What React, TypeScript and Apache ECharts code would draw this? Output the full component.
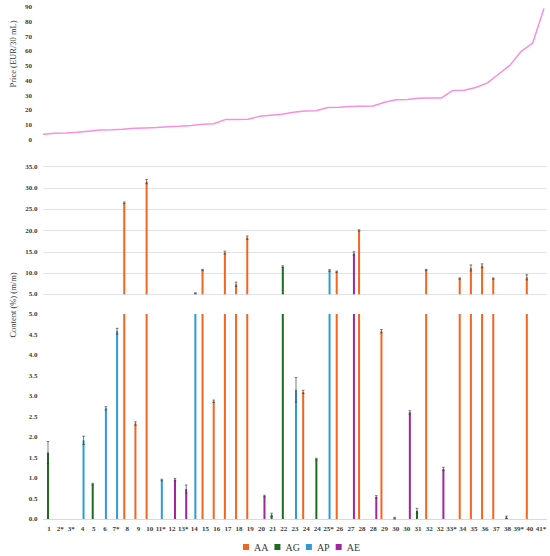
import React, { useEffect, useRef } from "react";
import * as echarts from "echarts";

const _ = null;

const categories = [
  "1", "2*", "3*", "4", "5", "6", "7*", "8", "9", "10",
  "11*", "12", "13*", "14", "15", "16", "17", "18", "19", "20",
  "21", "22", "23", "24", "24", "25*", "26", "27", "28", "28",
  "29", "30", "30", "31", "32", "32", "33*", "34", "35", "36",
  "37", "38", "39*", "40", "41*",
];

// Price (EUR/30 mL)
const price = [
  3.9, 4.6, 4.7, 5.2, 6.0, 6.8, 7.0, 7.3, 7.9, 8.2,
  8.4, 8.9, 9.3, 9.8, 10.6, 11.0, 13.8, 13.9, 14.1, 16.0,
  16.8, 17.4, 18.8, 19.6, 19.8, 22.0, 22.1, 22.6, 22.8, 23.0,
  25.5, 27.3, 27.4, 28.3, 28.4, 28.5, 33.5, 33.6, 35.5, 38.5,
  44.5, 50.5, 60.0, 65.5, 89.0,
];

// Content (%) (m/m)
const AA = [
  _, _, _, _, _, _, _, 26.5, 2.33, 31.5,
  _, _, _, _, 10.7, 2.87, 14.8, 7.35, 18.3, _,
  _, _, _, 3.1, _, _, 10.3, _, 20.0, _,
  4.58, _, _, _, 10.7, _, _, 8.7, 11.2, 11.7,
  8.7, _, _, 9.0, _,
];
const AA_err = [
  _, _, _, _, _, _, _, 0.2, 0.04, 0.5,
  _, _, _, _, 0.15, 0.03, 0.35, 0.5, 0.4, _,
  _, _, _, 0.04, _, _, 0.15, _, 0.15, _,
  0.04, _, _, _, 0.15, _, _, 0.15, 0.7, 0.45,
  0.15, _, _, 0.6, _,
];
const AG = [
  1.62, _, _, _, 0.85, _, _, _, _, _,
  _, _, _, _, _, _, _, _, _, _,
  0.1, 11.5, _, _, 1.46, _, _, _, _, _,
  _, 0.02, _, 0.2, _, _, _, _, _, _,
  _, 0.04, _, _, _,
];
const AG_err = [
  0.27, _, _, _, 0.02, _, _, _, _, _,
  _, _, _, _, _, _, _, _, _, _,
  0.04, 0.2, _, _, 0.02, _, _, _, _, _,
  _, 0.02, _, 0.06, _, _, _, _, _, _,
  _, 0.03, _, _, _,
];
const AP = [
  _, _, _, 1.92, _, 2.7, 4.58, _, _, _,
  0.95, _, _, 5.25, _, _, _, _, _, _,
  _, _, 3.15, _, _, 10.6, _, _, _, _,
  _, _, _, _, _, _, _, _, _, _,
  _, _, _, _, _,
];
const AP_err = [
  _, _, _, 0.1, _, 0.04, 0.07, _, _, _,
  0.02, _, _, 0.1, _, _, _, _, _, _,
  _, _, 0.3, _, _, 0.2, _, _, _, _,
  _, _, _, _, _, _, _, _, _, _,
  _, _, _, _, _,
];
const AE = [
  _, _, _, _, _, _, _, _, _, _,
  _, 0.96, 0.73, _, _, _, _, _, _, 0.56,
  _, _, _, _, _, _, _, 14.6, _, 0.54,
  _, _, 2.6, _, _, 1.22, _, _, _, _,
  _, _, _, _, _,
];
const AE_err = [
  _, _, _, _, _, _, _, _, _, _,
  _, 0.03, 0.1, _, _, _, _, _, _, 0.02,
  _, _, _, _, _, _, _, 0.4, _, 0.03,
  _, _, 0.04, _, _, 0.04, _, _, _, _,
  _, _, _, _, _,
];

const seriesNames = ["AA", "AG", "AP", "AE"];
const seriesColors = ["#F26522", "#1E6B22", "#2E9BD6", "#A1259E"];
const values = [AA, AG, AP, AE];
const errors = [AA_err, AG_err, AP_err, AE_err];

const FONT = "'Liberation Serif', 'DejaVu Serif', serif";
const TXT = "#3a3a3a";
const CAT_GAP = 0.28;

function errorSeries(k: number, gridIdx: number, keep: (v: number) => boolean) {
  const data: number[][] = [];
  values[k].forEach((v, i) => {
    if (v != null && keep(v)) data.push([i, v as number, (errors[k][i] ?? 0) as number]);
  });
  return {
    type: "custom",
    xAxisIndex: gridIdx,
    yAxisIndex: gridIdx,
    silent: true,
    z: 5,
    encode: { x: 0, y: 1 },
    data,
    renderItem: (params: any, api: any) => {
      const i = api.value(0);
      const v = api.value(1);
      const e = api.value(2);
      const band = api.size([1, 0], [i, v])[0];
      const bw = (band * (1 - CAT_GAP)) / 4;
      const cx = api.coord([i, v])[0] + (k - 1.5) * bw;
      const yTop = api.coord([i, v + e])[1];
      const yBot = api.coord([i, v - e])[1];
      const cap = 1.3;
      const style = { stroke: "#444", lineWidth: 0.7 };
      return {
        type: "group",
        children: [
          { type: "line", shape: { x1: cx, y1: yTop, x2: cx, y2: yBot }, style },
          { type: "line", shape: { x1: cx - cap, y1: yTop, x2: cx + cap, y2: yTop }, style },
          { type: "line", shape: { x1: cx - cap, y1: yBot, x2: cx + cap, y2: yBot }, style },
        ],
      };
    },
  };
}

export default function App() {
  const ref = useRef<HTMLDivElement>(null);

  useEffect(() => {
    if (!ref.current) return;
    const chart = echarts.init(ref.current, null, { renderer: "svg" });

    const barSeries: any[] = [];
    [1, 2].forEach((g) => {
      seriesNames.forEach((name, k) => {
        barSeries.push({
          type: "bar",
          name,
          xAxisIndex: g,
          yAxisIndex: g,
          barGap: "0%",
          barCategoryGap: `${CAT_GAP * 100}%`,
          itemStyle: { color: seriesColors[k] },
          data: g === 1 ? values[k].map((v) => (v != null && v > 5 ? v : null)) : values[k],
          clip: true,
        });
      });
    });
    const errSeries: any[] = [];
    seriesNames.forEach((_n, k) => {
      errSeries.push(errorSeries(k, 1, (v) => v > 5));
      errSeries.push(errorSeries(k, 2, (v) => v < 5));
    });

    const yLabel = (fmt?: (v: number) => string) => ({
      fontSize: 7,
      fontFamily: FONT,
      color: TXT,
      fontWeight: "bold",
      ...(fmt ? { formatter: fmt } : {}),
    });

    chart.setOption({
      animation: false,
      textStyle: { fontFamily: FONT },
      grid: [
        { left: 43, right: 6, top: 7, height: 133 },
        { left: 43.4, right: 3.4, top: 166.7, height: 127.6 },
        { left: 43.4, right: 3.4, top: 314, height: 205 },
      ],
      legend: {
        data: seriesNames,
        left: 243,
        top: 542,
        padding: 0,
        icon: "rect",
        itemWidth: 6,
        itemHeight: 6,
        itemGap: 6,
        textStyle: { fontSize: 10, fontFamily: FONT, color: TXT },
      },
      graphic: [
        {
          type: "text",
          x: 13,
          y: 54,
          rotation: Math.PI / 2,
          style: {
            text: "Price (EUR/30 mL)",
            fontSize: 8.5,
            fontFamily: FONT,
            fill: TXT,
            align: "center",
            verticalAlign: "middle",
          },
        },
        {
          type: "text",
          x: 13,
          y: 305,
          rotation: Math.PI / 2,
          style: {
            text: "Content (%) (m/m)",
            fontSize: 8.5,
            fontFamily: FONT,
            fill: TXT,
            align: "center",
            verticalAlign: "middle",
          },
        },
      ],
      xAxis: [
        { gridIndex: 0, type: "category", data: categories, boundaryGap: false, show: false },
        {
          gridIndex: 1,
          type: "category",
          data: categories,
          axisLine: { show: false },
          axisTick: { show: false },
          axisLabel: { show: false },
        },
        {
          gridIndex: 2,
          type: "category",
          data: categories,
          axisLine: { show: true, lineStyle: { color: "#d9d9d9", width: 1 } },
          axisTick: { show: false },
          axisLabel: {
            interval: 0,
            fontSize: 7,
            fontFamily: FONT,
            fontWeight: "bold",
            color: TXT,
            margin: 6,
          },
        },
      ],
      yAxis: [
        {
          gridIndex: 0,
          type: "value",
          min: 0,
          max: 90,
          interval: 10,
          splitLine: { show: false },
          axisLine: { show: false },
          axisTick: { show: false },
          axisLabel: { ...yLabel(), margin: 11 },
        },
        {
          gridIndex: 1,
          type: "value",
          min: 5,
          max: 35,
          interval: 5,
          splitLine: { show: true, lineStyle: { color: "#e2e2e2", width: 1 } },
          axisLine: { show: false },
          axisTick: { show: false },
          axisLabel: { ...yLabel((v: number) => v.toFixed(1)), margin: 6 },
        },
        {
          gridIndex: 2,
          type: "value",
          min: 0,
          max: 5,
          interval: 0.5,
          splitLine: { show: false },
          axisLine: { show: false },
          axisTick: { show: false },
          axisLabel: { ...yLabel((v: number) => v.toFixed(1)), margin: 6 },
        },
      ],
      series: [
        {
          type: "line",
          name: "Price",
          xAxisIndex: 0,
          yAxisIndex: 0,
          data: price,
          symbol: "none",
          lineStyle: { color: "#F78FE0", width: 1.5 },
          itemStyle: { color: "#F78FE0" },
        },
        ...barSeries,
        ...errSeries,
      ],
    });

    return () => chart.dispose();
  }, []);

  return (
    <div
      ref={ref}
      style={{ position: "absolute", left: 0, top: 0, width: 550, height: 556 }}
    />
  );
}
